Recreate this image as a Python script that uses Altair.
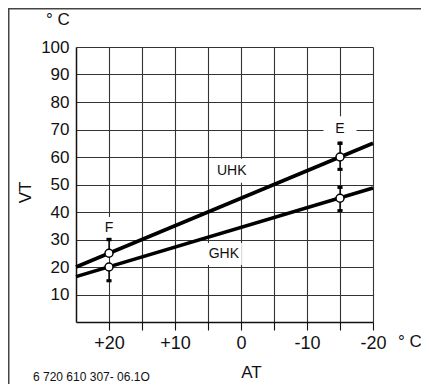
import altair as alt
import pandas as pd

# ---- data ----
at_ticks = [20, 15, 10, 5, 0, -5, -10, -15, -20]
vt_ticks = [10, 20, 30, 40, 50, 60, 70, 80, 90, 100]

curve_name = ["UHK", "UHK", "GHK", "GHK"]
curve_at = [25, -20, 25, -20]
curve_vt = [20, 65, 16.5, 48.7]

marker_at = [20, 20, -15, -15]
marker_vt = [25, 20, 60, 45]

arrow_at = [20, 20, -15, -15, -15, -15]
arrow_from = [25, 20, 60, 60, 45, 45]
arrow_to = [30, 15, 65, 55.5, 49, 40.5]
arrow_dir = ["up", "down", "up", "down", "up", "down"]

label_text = ["UHK", "GHK", "E", "F"]
label_at = [1.4, 2.6, -15, 20]
label_vt = [55, 24.7, 70.3, 34.2]

x_title = "AT"
y_title = "VT"
unit_text = "° C"
code_text = "6 720 610 307- 06.1O"

FONT = "Liberation Sans"

curves = pd.DataFrame({"name": curve_name, "at": curve_at, "vt": curve_vt})
markers = pd.DataFrame({"at": marker_at, "vt": marker_vt})
arrows = pd.DataFrame({"at": arrow_at, "vt": arrow_from, "vt2": arrow_to, "dir": arrow_dir})
heads_df = pd.DataFrame({"at": arrow_at, "vt": arrow_to, "dir": arrow_dir})
labels = pd.DataFrame({"label": label_text, "at": label_at, "vt": label_vt})
one = pd.DataFrame({"k": [0]})

x_enc = alt.X(
    "at:Q",
    scale=alt.Scale(domain=[25, -20], nice=False, zero=False),
    axis=alt.Axis(
        values=at_ticks,
        labelExpr="datum.value % 10 == 0 ? (datum.value > 0 ? '+' + datum.value : '' + datum.value) : ''",
        grid=True, gridColor="#333", gridWidth=1.1, gridOpacity=1,
        tickSize=8, tickColor="#111", tickWidth=1.1,
        domainColor="#111", domainWidth=1.5,
        labelFont=FONT, labelFontSize=18, labelColor="#111", labelPadding=4,
        labelFlush=False, labelOverlap=False,
        title=x_title, titleFont=FONT, titleFontSize=17, titleFontWeight="normal",
        titleColor="#111", titleX=175, titleY=50, titleBaseline="middle", titleAlign="center",
    ),
)
y_enc = alt.Y(
    "vt:Q",
    scale=alt.Scale(domain=[0, 100], nice=False, zero=False),
    axis=alt.Axis(
        values=vt_ticks,
        grid=True, gridColor="#333", gridWidth=1.1, gridOpacity=1,
        ticks=False, domainColor="#111", domainWidth=1.5,
        labelFont=FONT, labelFontSize=17, labelColor="#111", labelPadding=7,
        labelOverlap=False, labelFlush=False,
        title=y_title, titleFont=FONT, titleFontSize=17, titleFontWeight="normal",
        titleColor="#111", titleAngle=270, titleX=-51, titleY=145,
        titleBaseline="middle", titleAlign="center",
    ),
)

lines = alt.Chart(curves).mark_line(color="#000", strokeWidth=3.6).encode(
    x=x_enc, y=y_enc, detail="name:N"
)

box_paths = {
    "UHK": "M-1,-0.667L1,-0.667L1,0.667L-1,0.667Z",
    "GHK": "M-1,-0.611L1,-0.611L1,0.611L-1,0.611Z",
    "E": "M-0.917,-0.694L0.917,-0.694L0.917,0.694L-0.917,0.694Z",
    "F": "M-0.389,-0.611L0.389,-0.611L0.389,0.611L-0.389,0.611Z",
}
boxes = alt.Chart(labels).mark_point(filled=True, color="white", opacity=1, size=1296, strokeWidth=0).encode(
    x=x_enc, y=y_enc,
    shape=alt.Shape("label:N", scale=alt.Scale(domain=list(box_paths.keys()), range=list(box_paths.values())), legend=None),
)

shafts = alt.Chart(arrows).mark_rule(color="#000", strokeWidth=1.3).encode(
    x=x_enc, y=y_enc, y2="vt2:Q"
)
heads = alt.Chart(heads_df).mark_point(filled=True, color="#000", opacity=1, size=26).encode(
    x=x_enc, y=y_enc,
    shape=alt.Shape("dir:N", scale=alt.Scale(domain=["up", "down"], range=["triangle-up", "triangle-down"]), legend=None),
)
circles = alt.Chart(markers).mark_point(shape="circle", filled=True, fill="white", stroke="#000",
                                        strokeWidth=1.5, opacity=1, size=64).encode(x=x_enc, y=y_enc)

texts = alt.Chart(labels).mark_text(font=FONT, fontSize=14, color="#111", align="center", baseline="middle").encode(
    x=x_enc, y=y_enc, text="label:N"
)

unit_top = alt.Chart(one).mark_text(font=FONT, fontSize=17, color="#111", align="center", baseline="middle").encode(
    x=alt.value(-18), y=alt.value(-27), text=alt.value(unit_text)
)
unit_right = alt.Chart(one).mark_text(font=FONT, fontSize=17, color="#111", align="center", baseline="middle").encode(
    x=alt.value(334), y=alt.value(295), text=alt.value(unit_text)
)
code = alt.Chart(one).mark_text(font=FONT, fontSize=12, color="#111", align="left", baseline="middle").encode(
    x=alt.value(-43), y=alt.value(330), text=alt.value(code_text)
)
frame_top = alt.Chart(one).mark_rule(color="#444", strokeWidth=1.5).encode(
    x=alt.value(-68), x2=alt.value(345), y=alt.value(-38.25)
)
frame_left = alt.Chart(one).mark_rule(color="#444", strokeWidth=1.5).encode(
    x=alt.value(-67.25), y=alt.value(-39), y2=alt.value(337)
)

chart = alt.layer(
    boxes, lines, shafts, circles, heads, texts, unit_top, unit_right, code, frame_top, frame_left
).properties(
    width=297, height=275,
    padding={"left": 68, "top": 39, "right": 48, "bottom": 62},
    autosize=alt.AutoSizeParams(type="none"),
    background="white",
).configure_view(stroke=None)

chart.save("out.html", embed_options={"renderer": "svg", "actions": False})
